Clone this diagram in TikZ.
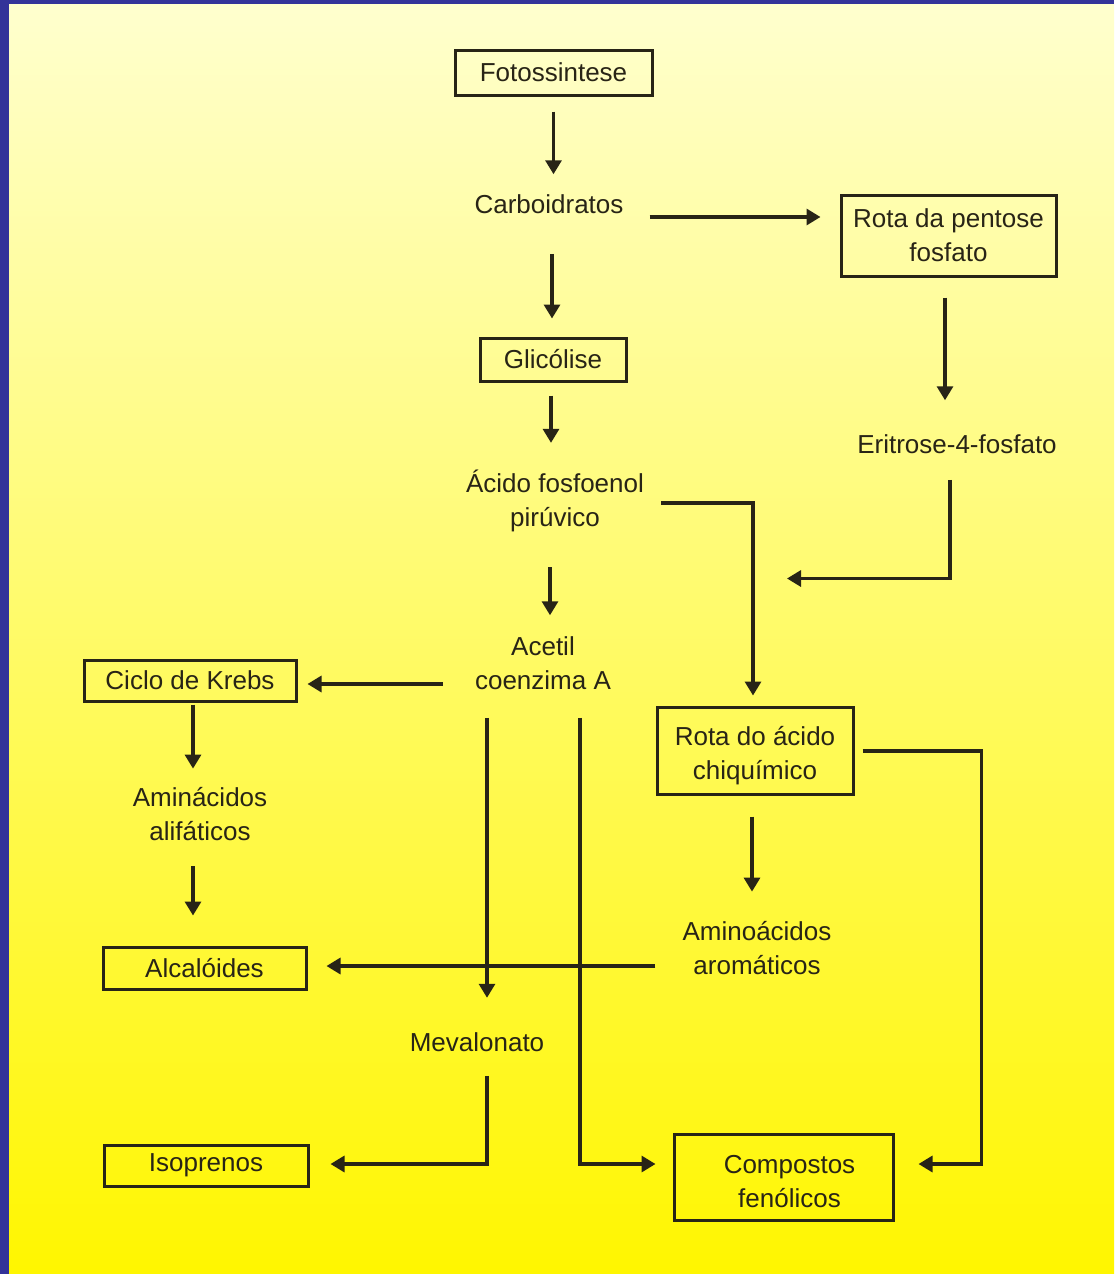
\documentclass[tikz,border=0pt]{standalone}
\usepackage{fontspec}
\setmainfont{Liberation Sans}
\usetikzlibrary{arrows.meta,calc}
\definecolor{frameblue}{RGB}{51,51,153}
\definecolor{ink}{RGB}{40,36,22}
\definecolor{paletop}{RGB}{255,255,206}
\definecolor{deepyellow}{RGB}{255,246,0}
\begin{document}
\begin{tikzpicture}[x=1pt,y=-1pt,
  txt/.style={font=\fontsize{26}{34}\selectfont, text=ink, align=center, inner sep=0pt},
  box/.style={txt, draw=ink, line width=3pt},
  arr/.style={draw=ink, line width=3.2pt, -{Triangle[length=14pt,width=16pt]}}]
% page, frame and background
\useasboundingbox (0,0) rectangle (1114,1274);
\fill[frameblue] (0,0) rectangle (1114,1274);
\shade[top color=paletop, bottom color=deepyellow] (9,4) rectangle (1114,1274);

% boxed steps
\node[box, minimum width=197pt, minimum height=45pt] (foto) at (553.5,72.5) {Fotossintese};
\node[box, minimum width=215pt, minimum height=81pt] (pent) at (948.5,235.5) {Rota da pentose\\fosfato};
\node[box, minimum width=146pt, minimum height=43pt] (glic) at (553,359.5) {Glicólise};
\node[box, minimum width=212pt, minimum height=41pt] (krebs) at (190,680.5) {Ciclo de Krebs};
\node[box, minimum width=196pt, minimum height=87pt, text height=63pt] (chiq) at (755,750.5) {Rota do ácido\\chiquímico};
\node[box, minimum width=203pt, minimum height=42pt] (alca) at (204.5,968) {Alcalóides};
\node[box, minimum width=204pt, minimum height=41pt] (isop) at (206,1165.5) {Isoprenos};
\node[box, minimum width=219pt, minimum height=86pt, text height=61pt] (fenol) at (783.5,1177)
  {\hspace{12pt}Compostos\\\hspace{12pt}fenólicos};

% plain intermediates
\node[txt] (carb) at (549,204) {Carboidratos};
\node[txt] (erit) at (957,444) {Eritrose-4-fosfato};
\node[txt] (acido) at (555,501) {Ácido fosfoenol\\pirúvico};
\node[txt] (acetil) at (543,663) {Acetil\\coenzima A};
\node[txt] (alif) at (200,814.5) {Aminácidos\\alifáticos};
\node[txt] (arom) at (757,948.5) {Aminoácidos\\aromáticos};
\node[txt] (meva) at (477,1042) {Mevalonato};

% free end where the erythrose branch joins the shikimate line
\coordinate (erjoin) at ($(chiq.north)+(32,-127)$);

% connectors
\draw[arr] ($(foto.south)+(0,15)$) -- ($(carb.north -| foto.south)+(0,-20)$);
\draw[arr] ($(carb.east)+(26,13)$) -- ($(pent.west)+(-19,-18.5)$);
\draw[arr] ($(carb.south)+(3,40)$) -- ($(glic.north)+(-1,-18)$);
\draw[arr] ($(pent.south)+(-3.5,20)$) -- ($(erit.north)+(-12,-34)$);
\draw[arr] ($(glic.south)+(-2,13)$) -- ($(acido.north -| glic.south)+(-2,-27)$);
\draw[arr] ($(erit.south)+(-7,26)$) |- (erjoin);
\draw[arr] ($(acido.east)+(17,2)$) -| ($(chiq.north)+(-2,-10)$);
\draw[arr] ($(acido.south)+(-5,35)$) -- ($(acetil.north -| acido.south)+(-5,-21)$);
\draw[arr] ($(acetil.west)+(-32,21)$) -- ($(krebs.east)+(10,3.5)$);
\draw[arr] ($(krebs.south)+(3,2)$) -- ($(alif.north -| krebs.south)+(3,-19)$);
\draw[arr] ($(alif.south -| krebs.south)+(3,25)$) -- ($(alca.north -| krebs.south)+(3,-30)$);
\draw[arr] ($(acetil.south)+(-56,28)$) -- ($(meva.north)+(10,-34.5)$);
\draw[arr] ($(acetil.south)+(37,28)$) |- ($(fenol.west)+(-17,-13)$);
\draw[arr] ($(chiq.south)+(-3,21)$) -- ($(arom.north)+(-5,-30)$);
\draw[arr] ($(arom.west)+(-27,17.5)$) -- ($(alca.east)+(19,-2)$);
\draw[arr] ($(chiq.east)+(8,0.5)$) -| ($(fenol.east)+(87,-13)$) -- ($(fenol.east)+(24,-13)$);
\draw[arr] ($(meva.south)+(10,24)$) |- ($(isop.east)+(21,-1.5)$);
\end{tikzpicture}
\end{document}
